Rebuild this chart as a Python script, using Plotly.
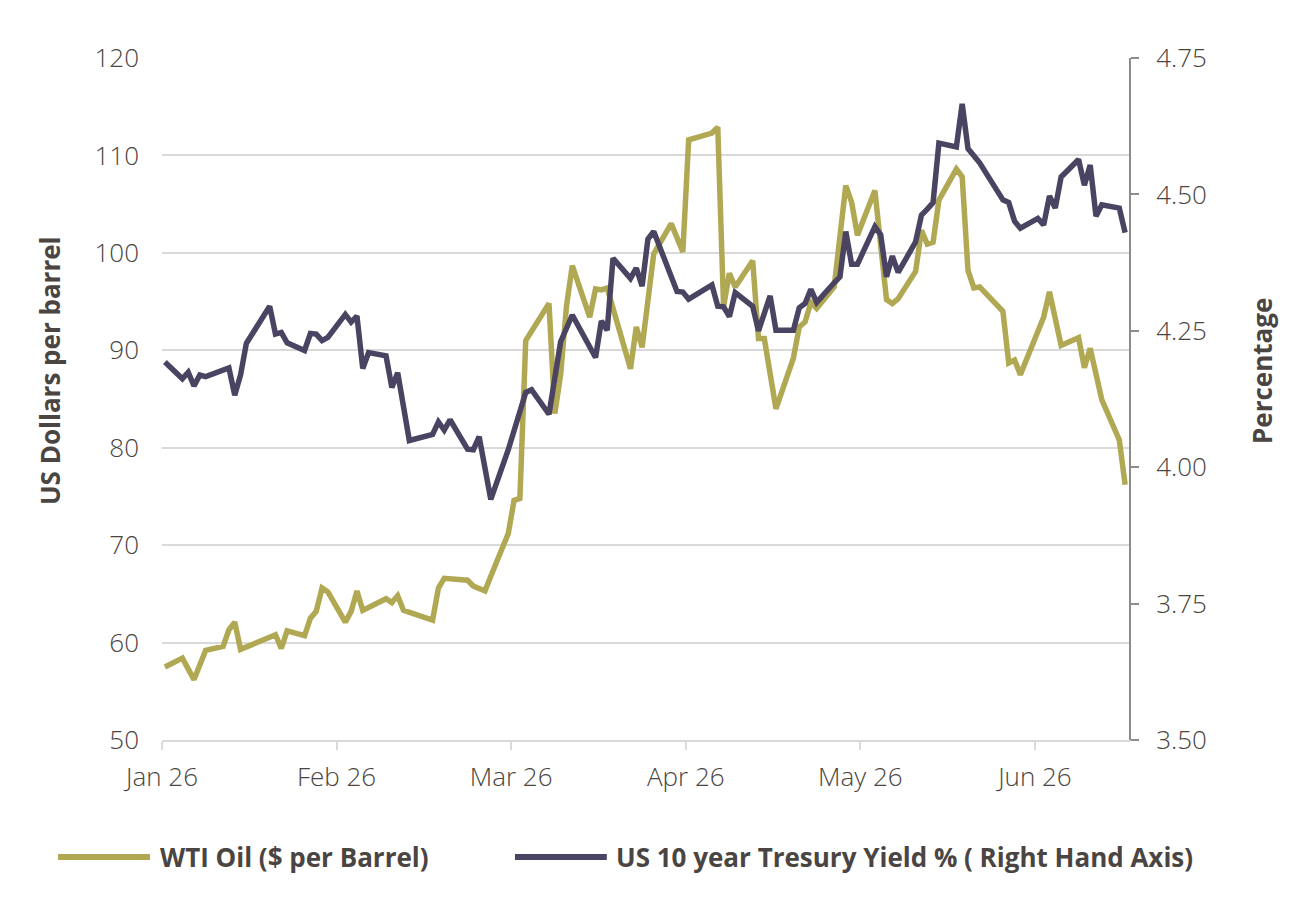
import pandas as pd
import plotly.graph_objects as go

# ---- data ----
oil_dates = [
    "2026-01-02", "2026-01-05", "2026-01-07", "2026-01-09", "2026-01-12", "2026-01-13",
    "2026-01-14", "2026-01-15", "2026-01-21", "2026-01-22", "2026-01-23", "2026-01-26",
    "2026-01-27", "2026-01-28", "2026-01-29", "2026-01-30", "2026-02-02", "2026-02-03",
    "2026-02-04", "2026-02-05", "2026-02-09", "2026-02-10", "2026-02-11", "2026-02-12",
    "2026-02-17", "2026-02-18", "2026-02-19", "2026-02-23", "2026-02-24", "2026-02-26",
    "2026-02-27", "2026-03-02", "2026-03-03", "2026-03-04", "2026-03-05", "2026-03-09",
    "2026-03-10", "2026-03-11", "2026-03-12", "2026-03-13", "2026-03-16", "2026-03-17",
    "2026-03-18", "2026-03-19", "2026-03-23", "2026-03-24", "2026-03-25", "2026-03-26",
    "2026-03-27", "2026-03-30", "2026-04-01", "2026-04-02", "2026-04-06", "2026-04-07",
    "2026-04-08", "2026-04-09", "2026-04-10", "2026-04-13", "2026-04-14", "2026-04-15",
    "2026-04-17", "2026-04-20", "2026-04-21", "2026-04-22", "2026-04-23", "2026-04-24",
    "2026-04-27", "2026-04-29", "2026-04-30", "2026-05-01", "2026-05-04", "2026-05-06",
    "2026-05-07", "2026-05-08", "2026-05-11", "2026-05-12", "2026-05-13", "2026-05-14",
    "2026-05-15", "2026-05-18", "2026-05-19", "2026-05-20", "2026-05-21", "2026-05-22",
    "2026-05-26", "2026-05-27", "2026-05-28", "2026-05-29", "2026-06-02", "2026-06-03",
    "2026-06-05", "2026-06-08", "2026-06-09", "2026-06-10", "2026-06-12", "2026-06-15",
    "2026-06-16",
]
oil_usd = [
    57.5, 58.4, 56.2, 59.2, 59.6, 61.3,
    62.1, 59.3, 60.8, 59.4, 61.2, 60.7,
    62.5, 63.2, 65.6, 65.2, 62.1, 63.2,
    65.3, 63.3, 64.5, 64.1, 64.8, 63.3,
    62.3, 65.6, 66.6, 66.4, 65.8, 65.3,
    66.8, 71.2, 74.6, 74.8, 91.0, 94.8,
    83.5, 87.5, 94.5, 98.7, 93.4, 96.3,
    96.2, 96.4, 88.1, 92.4, 90.3, 95.7,
    99.9, 103.0, 100.1, 111.6, 112.3, 112.9,
    94.5, 97.9, 96.5, 99.2, 91.2, 91.2,
    84.0, 89.2, 92.4, 92.9, 94.9, 94.3,
    96.5, 106.9, 105.2, 101.8, 106.4, 95.2,
    94.8, 95.3, 98.1, 102.3, 100.9, 101.1,
    105.4, 108.6, 107.8, 98.2, 96.4, 96.5,
    94.0, 88.7, 89.0, 87.5, 93.4, 96.0,
    90.5, 91.3, 88.2, 90.2, 84.9, 80.8,
    76.2,
]

yield_dates = [
    "2026-01-02", "2026-01-05", "2026-01-06", "2026-01-07", "2026-01-08", "2026-01-09",
    "2026-01-13", "2026-01-14", "2026-01-15", "2026-01-16", "2026-01-20", "2026-01-21",
    "2026-01-22", "2026-01-23", "2026-01-26", "2026-01-27", "2026-01-28", "2026-01-29",
    "2026-01-30", "2026-02-02", "2026-02-03", "2026-02-04", "2026-02-05", "2026-02-06",
    "2026-02-09", "2026-02-10", "2026-02-11", "2026-02-13", "2026-02-17", "2026-02-18",
    "2026-02-19", "2026-02-20", "2026-02-23", "2026-02-24", "2026-02-25", "2026-02-27",
    "2026-03-02", "2026-03-03", "2026-03-05", "2026-03-06", "2026-03-09", "2026-03-11",
    "2026-03-13", "2026-03-17", "2026-03-18", "2026-03-19", "2026-03-20", "2026-03-23",
    "2026-03-24", "2026-03-25", "2026-03-26", "2026-03-27", "2026-03-31", "2026-04-01",
    "2026-04-02", "2026-04-06", "2026-04-07", "2026-04-08", "2026-04-09", "2026-04-10",
    "2026-04-13", "2026-04-14", "2026-04-16", "2026-04-17", "2026-04-20", "2026-04-21",
    "2026-04-22", "2026-04-23", "2026-04-24", "2026-04-27", "2026-04-28", "2026-04-29",
    "2026-04-30", "2026-05-01", "2026-05-04", "2026-05-05", "2026-05-06", "2026-05-07",
    "2026-05-08", "2026-05-11", "2026-05-12", "2026-05-13", "2026-05-14", "2026-05-15",
    "2026-05-18", "2026-05-19", "2026-05-20", "2026-05-22", "2026-05-26", "2026-05-27",
    "2026-05-28", "2026-05-29", "2026-06-01", "2026-06-02", "2026-06-03", "2026-06-04",
    "2026-06-05", "2026-06-08", "2026-06-09", "2026-06-10", "2026-06-11", "2026-06-12",
    "2026-06-15", "2026-06-16",
]
yield_pct = [
    4.193, 4.162, 4.174, 4.149, 4.169, 4.166,
    4.182, 4.132, 4.169, 4.227, 4.295, 4.244,
    4.247, 4.228, 4.214, 4.245, 4.244, 4.232,
    4.238, 4.280, 4.266, 4.277, 4.181, 4.210,
    4.204, 4.146, 4.173, 4.049, 4.060, 4.083,
    4.068, 4.087, 4.033, 4.032, 4.056, 3.941,
    4.032, 4.066, 4.137, 4.142, 4.097, 4.230,
    4.279, 4.201, 4.268, 4.251, 4.383, 4.346,
    4.365, 4.332, 4.418, 4.432, 4.322, 4.321,
    4.308, 4.334, 4.295, 4.294, 4.276, 4.320,
    4.295, 4.250, 4.314, 4.251, 4.251, 4.292,
    4.300, 4.326, 4.302, 4.338, 4.349, 4.432,
    4.372, 4.372, 4.441, 4.426, 4.349, 4.387,
    4.357, 4.413, 4.462, 4.473, 4.485, 4.594,
    4.587, 4.666, 4.584, 4.558, 4.490, 4.485,
    4.451, 4.438, 4.456, 4.444, 4.497, 4.475,
    4.532, 4.564, 4.517, 4.554, 4.460, 4.481,
    4.475, 4.430,
]

month_labels = ["Jan 26", "Feb 26", "Mar 26", "Apr 26", "May 26", "Jun 26"]

OIL_NAME = "WTI Oil ($ per Barrel)"
YIELD_NAME = "US 10 year Tresury Yield % ( Right Hand Axis)"

OLIVE = "#B0A852"
PURPLE = "#4A4462"
TEXT = "#4A4542"
GRID = "#D9D9D9"
FONT = "'Open Sans', Lato, sans-serif"

# category-style ticks every 30 days, half a day before the first point
tick0 = pd.Timestamp("2026-01-01 12:00")
tickvals = [tick0 + pd.Timedelta(days=30 * i) for i in range(len(month_labels))]

fig = go.Figure()
fig.add_trace(go.Scatter(
    x=pd.to_datetime(oil_dates), y=oil_usd, name=OIL_NAME, mode="lines",
    line=dict(color=OLIVE, width=5.5), showlegend=False))
fig.add_trace(go.Scatter(
    x=pd.to_datetime(yield_dates), y=yield_pct, name=YIELD_NAME, mode="lines",
    line=dict(color=PURPLE, width=5.5), yaxis="y2", showlegend=False))

tick_font = dict(family=FONT, size=26, color=TEXT, weight=300)
bold_font = dict(family=FONT, size=26, color=TEXT, weight="bold")

# page body has an 8px margin, so the margins are shifted by 8px
fig.update_layout(
    width=1300, height=909,
    margin=dict(l=154, r=179, t=50, b=177),
    plot_bgcolor="white", paper_bgcolor="white",
    xaxis=dict(
        type="date", range=["2026-01-01 12:00", "2026-06-16 16:00"],
        tickmode="array", tickvals=tickvals, ticktext=month_labels,
        showgrid=False, showline=True, linecolor=GRID, linewidth=2,
        ticks="outside", ticklen=8, tickwidth=2, tickcolor=GRID,
        tickfont=tick_font, ticklabelstandoff=5,
    ),
    yaxis=dict(
        range=[50, 120], dtick=10, showgrid=True, gridcolor=GRID, gridwidth=2,
        zeroline=False, showline=False, ticks="", tickfont=tick_font,
        ticklabelstandoff=22,
    ),
    yaxis2=dict(
        overlaying="y", side="right", range=[3.5, 4.75], dtick=0.25,
        tickformat=".2f", showgrid=False, zeroline=False,
        showline=True, linecolor="#8C8C8C", linewidth=2,
        ticks="outside", ticklen=8, tickwidth=2, tickcolor="#8C8C8C",
        tickfont=tick_font, ticklabelstandoff=12,
    ),
)

# axis titles sit a little above the middle of the plot, as in the original
for text, x in [("US Dollars per barrel", -0.1158), ("Percentage", 1.1375)]:
    fig.add_annotation(text=text, xref="paper", yref="paper", x=x, y=0.541,
                       xanchor="center", yanchor="middle", textangle=-90,
                       showarrow=False, font=bold_font)

# legend drawn by hand so the sample lines are as long as in the original
legend_y = -0.1716
items = [(OIL_NAME, OLIVE, -0.1075, -0.0124, -0.0041),
         (YIELD_NAME, PURPLE, 0.365, 0.460, 0.4674)]
for name, color, x0, x1, xt in items:
    fig.add_shape(type="line", xref="paper", yref="paper",
                  x0=x0, x1=x1, y0=legend_y, y1=legend_y,
                  line=dict(color=color, width=6))
    fig.add_annotation(text=name, xref="paper", yref="paper", x=xt, y=legend_y,
                       xanchor="left", yanchor="middle", showarrow=False,
                       font=bold_font)

fig.write_html("out.html")
